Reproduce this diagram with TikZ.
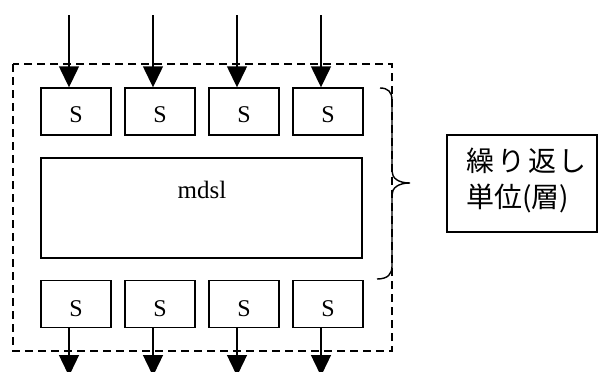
\documentclass[tikz,border=0pt]{standalone}
\usepackage{fontspec}
\setmainfont{Liberation Serif}
\newfontfamily\jpfont{Noto Sans CJK JP}
\usetikzlibrary{arrows.meta}
\tikzset{
  unit/.style={draw, line width=1.4pt, minimum width=70pt, minimum height=47pt,
    inner sep=0pt},
  unittext/.style={anchor=base, inner sep=0pt, font=\fontsize{24}{28}\selectfont},
  flow/.style={line width=1.4pt, -{Triangle[length=21pt,width=20pt]}},
  frame/.style={line width=1.3pt, dash pattern=on 8pt off 5pt},
  outline/.style={line width=1.4pt},
}
\begin{document}
\begin{tikzpicture}[x=1pt,y=-1pt]
  \useasboundingbox (0,0) rectangle (598,372);
  % dashed repeating-unit frame
  \draw[frame] (13,64) rectangle (392,351);
  % input stage
  \foreach \i/\x in {1/76,2/160,3/244,4/328}{
    \node[unit] (t\i) at (\x,111.5) {};
    \node[unittext] (tl\i) at (\x,122) {S};
  }
  % main block
  \node[draw, outline, minimum width=321pt, minimum height=100pt, inner sep=0pt]
    (m) at (201.5,208) {};
  \node[anchor=base, inner sep=0pt, font=\fontsize{25}{28}\selectfont]
    (mlab) at (202,198) {mdsl};
  % output stage
  \foreach \i/\x in {1/76,2/160,3/244,4/328}{
    \node[unit] (b\i) at (\x,304) {};
    \node[unittext] (bl\i) at (\x,316) {S};
  }
  % input and output arrows
  \foreach \i/\x in {1/69,2/153,3/237,4/321}{
    \coordinate (in\i) at (\x,15);
    \coordinate (out\i) at (\x,376);
    \draw[flow] (in\i) -- (in\i |- t\i.north);
    \draw[flow] (out\i |- b\i.south) -- (out\i);
  }
  % brace spanning the repeated part
  \draw[outline]
    (380,88) .. controls (388,88) and (392,92) .. (392,100)
    -- (392,171) .. controls (392,178) and (398,183) .. (410,183)
    .. controls (398,183) and (392,188) .. (392,195)
    -- (392,266) .. controls (392,274) and (388,279) .. (377,279);
  % label box
  \node[draw, outline, minimum width=150pt, minimum height=97pt, inner sep=0pt]
    (lab) at (522,183.5) {};
  \node[font=\jpfont\fontsize{28}{36}\selectfont, anchor=north west, align=left,
    inner sep=0pt]
    (labt) at (466,148) {繰\hspace{3pt}り\hspace{3pt}返\hspace{2pt}し\\単位(層)};
\end{tikzpicture}
\end{document}
